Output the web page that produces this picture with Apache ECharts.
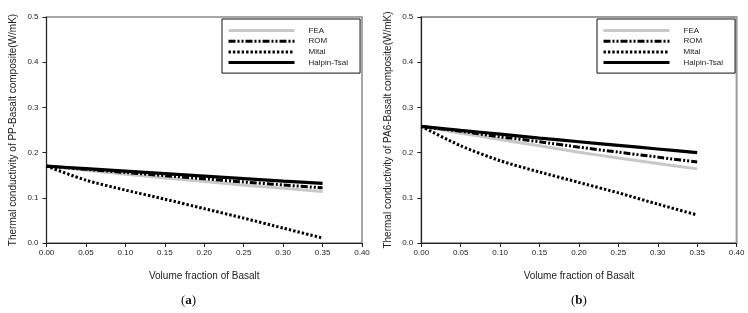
<!DOCTYPE html>
<html>
<head>
<meta charset="utf-8">
<script src="https://cdn.jsdelivr.net/npm/echarts@6/dist/echarts.min.js"></script>
<style>
html,body{margin:0;padding:0;background:#fff;}
#c{width:748px;height:313px;}
</style>
</head>
<body>
<div id="c"></div>
<script>
// ---- data ----
const volumeFraction = [0, 0.05, 0.10, 0.15, 0.20, 0.25, 0.30, 0.35];
const seriesNames = ['FEA', 'ROM', 'Mital', 'Halpin-Tsai'];
const xTicks = ['0.00','0.05','0.10','0.15','0.20','0.25','0.30','0.35','0.40'];
const yTicks = ['0.0','0.1','0.2','0.3','0.4','0.5'];

// (a) PP-Basalt
const ppFEA    = [0.170, 0.161, 0.152, 0.144, 0.136, 0.128, 0.121, 0.114];
const ppROM    = [0.170, 0.163, 0.156, 0.149, 0.142, 0.135, 0.1285, 0.122];
const ppMital  = [0.170, 0.139, 0.117, 0.097, 0.076, 0.055, 0.033, 0.011];
const ppHalpin = [0.170, 0.1645, 0.159, 0.1535, 0.148, 0.1425, 0.137, 0.132];

// (b) PA6-Basalt
const paFEA    = [0.258, 0.243, 0.229, 0.215, 0.201, 0.188, 0.176, 0.164];
const paROM    = [0.258, 0.247, 0.235, 0.224, 0.212, 0.201, 0.190, 0.179];
const paMital  = [0.258, 0.215, 0.182, 0.157, 0.134, 0.111, 0.086, 0.062];
const paHalpin = [0.258, 0.249, 0.241, 0.232, 0.224, 0.216, 0.208, 0.200];

const yNames = ['Thermal conductivity of PP-Basalt composite(W/mK)',
                'Thermal conductivity of PA6-Basalt composite(W/mK)'];
const xName = 'Volume fraction of Basalt';
const panelLabels = ['a', 'b'];

// ---- styles ----
const FONT = 'Liberation Sans, Arial, sans-serif';
const styles = {
  'FEA':         {color:'#c8c8c8', width:3, type:'solid'},
  'ROM':         {color:'#000', width:3, type:[7,2,2,2,2,2]},
  'Mital':       {color:'#000', width:3, type:[2.4,2]},
  'Halpin-Tsai': {color:'#000', width:3.2, type:'solid'}
};

const chart = echarts.init(document.getElementById('c'), null, {renderer:'canvas'});

const grids = [
  {left:46.5, top:17, width:315.5, height:226, show:true, borderColor:'#8a8a8a', borderWidth:1.5, backgroundColor:'transparent'},
  {left:421.3, top:17, width:315.3, height:226, show:true, borderColor:'#9a9a9a', borderWidth:2, backgroundColor:'transparent'}
];

function xAxisFor(i){
  return {
    type:'value', gridIndex:i, min:0, max:0.4, interval:0.05,
    name:xName, nameLocation:'middle', nameGap:28,
    nameTextStyle:{fontFamily:FONT, fontSize:10, color:'#222'},
    axisLine:{show:true, onZero:false, lineStyle:{color:'#222', width:1}},
    axisTick:{show:true, inside:false, length:4, lineStyle:{color:'#222'}},
    axisLabel:{fontFamily:FONT, fontSize:8, color:'#222', margin:6,
      formatter:(v)=>xTicks[Math.round(v/0.05)]},
    splitLine:{show:false}
  };
}
function yAxisFor(i){
  return {
    type:'value', gridIndex:i, min:0, max:0.5, interval:0.1,
    name:yNames[i], nameLocation:'middle', nameGap:28,
    nameTextStyle:{fontFamily:FONT, fontSize:10, color:'#222'},
    axisLine:{show:true, onZero:false, lineStyle:{color:'#222', width:1}},
    axisTick:{show:true, inside:false, length:4, lineStyle:{color:'#222'}},
    axisLabel:{fontFamily:FONT, fontSize:8, color:'#222', margin:8,
      formatter:(v)=>yTicks[Math.round(v/0.1)]},
    splitLine:{show:false}
  };
}

function pairs(ys){ return volumeFraction.map((x,k)=>[x, ys[k]]); }

const panelData = [
  [ppFEA, ppROM, ppMital, ppHalpin],
  [paFEA, paROM, paMital, paHalpin]
];

const series = [];
panelData.forEach((arrs, gi)=>{
  arrs.forEach((ys, si)=>{
    const nm = seriesNames[si];
    const st = styles[nm];
    series.push({
      name:nm, type:'line', xAxisIndex:gi, yAxisIndex:gi,
      data:pairs(ys), symbol:'none', smooth:0.25,
      lineStyle:{color:st.color, width:st.width, type:st.type, cap:'butt'},
      itemStyle:{color:st.color},
      z: 2 + si, silent:true, animation:false
    });
  });
});

function legendFor(left){
  return {
    orient:'vertical', left:left, top:19,
    data:seriesNames,
    itemWidth:66, itemHeight:9, itemGap:1.7,
    padding:[7,12,6,5],
    borderColor:'#111', borderWidth:1, backgroundColor:'#fff',
    itemStyle:{opacity:0},
    lineStyle:{width:3},
    textStyle:{fontFamily:FONT, fontSize:8, color:'#222', padding:[0,0,0,9], lineHeight:9},
    selectedMode:false
  };
}

const graphics = panelLabels.map((lab, i)=>({
  type:'text', left: (i===0 ? 190 : 580) - 9, top: 294,
  style:{
    text:'{p|(}{b|' + lab + '}{p|)}',
    rich:{
      p:{fontFamily:'Liberation Serif, DejaVu Serif, serif', fontSize:13, fill:'#111'},
      b:{fontFamily:'Liberation Serif, DejaVu Serif, serif', fontSize:13, fontWeight:'bold', fill:'#111'}
    }
  }
}));

chart.setOption({
  animation:false,
  backgroundColor:'#fff',
  grid:grids,
  xAxis:[xAxisFor(0), xAxisFor(1)],
  yAxis:[yAxisFor(0), yAxisFor(1)],
  legend:[legendFor(222), legendFor(597)],
  series:series,
  graphic:graphics
});
</script>
</body>
</html>
